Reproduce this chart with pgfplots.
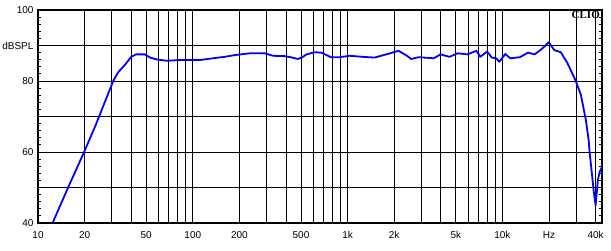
\documentclass[border=0pt]{standalone}
\usepackage{fontspec}
\setmainfont{Liberation Sans}
\newfontfamily\cliofont{Liberation Serif}
\usepackage{pgfplots}
\pgfplotsset{compat=1.18}
\begin{document}
\begin{tikzpicture}
\useasboundingbox (0,0) rectangle (611pt,251pt);
\begin{axis}[
  at={(38pt,28pt)}, anchor=south west,
  width=564pt, height=213pt, scale only axis,
  xmode=log, xmin=10, xmax=44000, ymin=40, ymax=100,
  xtick={10,20,30,40,50,60,70,80,90,100,200,300,400,500,600,700,800,900,1000,2000,3000,4000,5000,6000,7000,8000,9000,10000,20000,30000,40000},
  xticklabels={10,20,,,50,,,,,100,200,,,500,,,,,1k,2k,,,5k,,,,,10k,Hz,,40k},
  minor xtick={},
  ytick={40,50,60,70,80,90,100},
  yticklabels={40,,60,,80,dBSPL,100},
  minor ytick={42,44,46,48,52,54,56,58,62,64,66,68,72,74,76,78,82,84,86,88,92,94,96,98},
  grid=major,
  major grid style={black, line width=0.8pt},
  axis line style={black, line width=1.6pt},
  major tick length=0pt,
  minor tick length=3pt,
  minor tick style={black, line width=0.8pt},
  tick align=inside,
  ticklabel style={font=\fontsize{10}{12}\selectfont, text=black},
  xticklabel style={yshift=-5pt},
  yticklabel style={xshift=-1pt},
  axis on top=false,
]
\addplot[blue, line width=1.8pt, line join=round, no markers] coordinates {
(12.5,40.3)(15.8,50.4)(20,60.3)(23.6,67.6)(30.6,80)(33,82.5)(36.4,84.5)(40,86.8)(43,87.5)(49,87.5)(53,86.6)(58,86.1)(68,85.7)(82,85.9)(111,85.9)(135,86.4)(160,86.8)(187,87.3)(233,87.8)(292,87.8)(330,87.1)(393,87.0)(440,86.6)(478,86.2)(510,86.7)(543,87.5)(612,88.1)(675,88.0)(781,86.7)(888,86.7)(1030,87.1)(1256,86.8)(1494,86.6)(1778,87.5)(2133,88.5)(2400,87.2)(2577,86.2)(2870,86.7)(3606,86.4)(3990,87.5)(4550,86.8)(5130,87.8)(5950,87.5)(6790,88.5)(7200,86.8)(7970,88.3)(8530,86.6)(9140,86.4)(9540,85.4)(10440,87.6)(11240,86.4)(12990,86.7)(14630,88.0)(16150,87.5)(17820,88.9)(19920,90.9)(21630,88.7)(23850,88.1)(26340,85.0)(29580,80.3)(32140,76.1)(34600,69.0)(36060,63.4)(36600,60)(39000,48.5)(40000,45)(41400,52.1)(42450,54.4)(44200,55.9)
};
\node[anchor=north east, inner sep=0pt, font=\cliofont\bfseries\fontsize{11}{13}\selectfont, xshift=-2pt, yshift=-1.5pt] at (rel axis cs:1,1) {CLIO};
\end{axis}
\end{tikzpicture}
\end{document}
